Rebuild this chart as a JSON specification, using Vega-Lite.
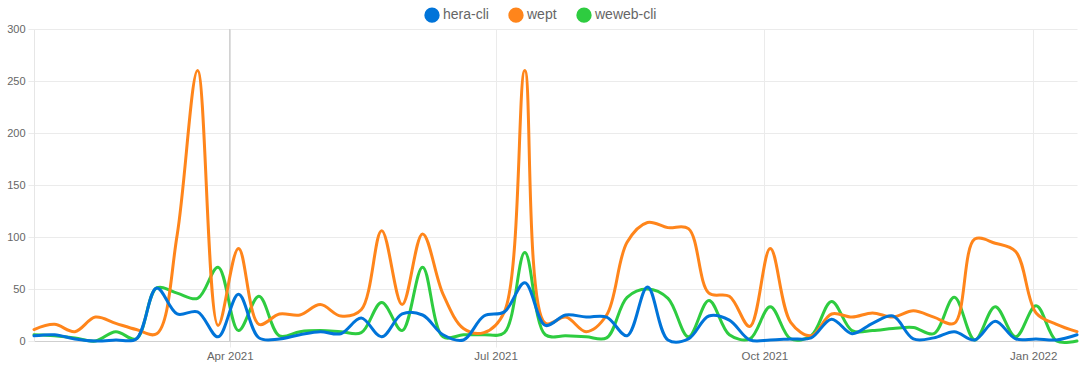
{
  "$schema": "https://vega.github.io/schema/vega-lite/v6.json",
  "autosize": "none",
  "width": 1043,
  "height": 312,
  "padding": {"left": 34, "top": 29, "right": 3, "bottom": 30},
  "background": "white",
  "config": {
    "view": {"stroke": null},
    "font": "Liberation Sans"
  },
  "layer": [
    {
      "data": {"values": [{"date": "2021-04-01"}]},
      "mark": {"type": "rule", "color": "#d2d2d2", "strokeWidth": 1.5},
      "encoding": {
        "x": {"field": "date", "type": "temporal", "scale": {"type": "utc"}}
      }
    },
    {
      "data": {"values": [
        {"date": "2021-01-24", "hera-cli": 5, "wept": 11, "weweb-cli": 6},
        {"date": "2021-01-31", "hera-cli": 6, "wept": 16, "weweb-cli": 5},
        {"date": "2021-02-07", "hera-cli": 2, "wept": 9, "weweb-cli": 3},
        {"date": "2021-02-14", "hera-cli": 0, "wept": 23, "weweb-cli": 0},
        {"date": "2021-02-21", "hera-cli": 1, "wept": 17, "weweb-cli": 9},
        {"date": "2021-02-28", "hera-cli": 2, "wept": 11, "weweb-cli": 2},
        {"date": "2021-03-07", "hera-cli": 51, "wept": 7, "weweb-cli": 51},
        {"date": "2021-03-14", "hera-cli": 26, "wept": 102, "weweb-cli": 46},
        {"date": "2021-03-21", "hera-cli": 28, "wept": 260, "weweb-cli": 41},
        {"date": "2021-03-28", "hera-cli": 4, "wept": 15, "weweb-cli": 71},
        {"date": "2021-04-04", "hera-cli": 45, "wept": 89, "weweb-cli": 10},
        {"date": "2021-04-11", "hera-cli": 3, "wept": 16, "weweb-cli": 43},
        {"date": "2021-04-18", "hera-cli": 2, "wept": 26, "weweb-cli": 5},
        {"date": "2021-04-25", "hera-cli": 6, "wept": 25, "weweb-cli": 9},
        {"date": "2021-05-02", "hera-cli": 9, "wept": 35, "weweb-cli": 10},
        {"date": "2021-05-09", "hera-cli": 7, "wept": 24, "weweb-cli": 9},
        {"date": "2021-05-16", "hera-cli": 22, "wept": 30, "weweb-cli": 8},
        {"date": "2021-05-23", "hera-cli": 4, "wept": 106, "weweb-cli": 37},
        {"date": "2021-05-30", "hera-cli": 26, "wept": 35, "weweb-cli": 10},
        {"date": "2021-06-06", "hera-cli": 25, "wept": 103, "weweb-cli": 71},
        {"date": "2021-06-13", "hera-cli": 6, "wept": 45, "weweb-cli": 4},
        {"date": "2021-06-20", "hera-cli": 1, "wept": 12, "weweb-cli": 6},
        {"date": "2021-06-27", "hera-cli": 24, "wept": 8, "weweb-cli": 6},
        {"date": "2021-07-04", "hera-cli": 28, "wept": 28, "weweb-cli": 8},
        {"date": "2021-07-11", "hera-cli": 56, "wept": 260, "weweb-cli": 85},
        {"date": "2021-07-18", "hera-cli": 15, "wept": 17, "weweb-cli": 6},
        {"date": "2021-07-25", "hera-cli": 25, "wept": 23, "weweb-cli": 5},
        {"date": "2021-08-01", "hera-cli": 23, "wept": 9, "weweb-cli": 4},
        {"date": "2021-08-08", "hera-cli": 23, "wept": 25, "weweb-cli": 3},
        {"date": "2021-08-15", "hera-cli": 5, "wept": 95, "weweb-cli": 42},
        {"date": "2021-08-22", "hera-cli": 52, "wept": 114, "weweb-cli": 50},
        {"date": "2021-08-29", "hera-cli": 1, "wept": 109, "weweb-cli": 41},
        {"date": "2021-09-05", "hera-cli": 2, "wept": 108, "weweb-cli": 4},
        {"date": "2021-09-12", "hera-cli": 24, "wept": 46, "weweb-cli": 39},
        {"date": "2021-09-19", "hera-cli": 20, "wept": 43, "weweb-cli": 6},
        {"date": "2021-09-26", "hera-cli": 1, "wept": 14, "weweb-cli": 2},
        {"date": "2021-10-03", "hera-cli": 1, "wept": 89, "weweb-cli": 33},
        {"date": "2021-10-10", "hera-cli": 2, "wept": 18, "weweb-cli": 2},
        {"date": "2021-10-17", "hera-cli": 3, "wept": 5, "weweb-cli": 5},
        {"date": "2021-10-24", "hera-cli": 21, "wept": 26, "weweb-cli": 38},
        {"date": "2021-10-31", "hera-cli": 7, "wept": 23, "weweb-cli": 10},
        {"date": "2021-11-07", "hera-cli": 17, "wept": 27, "weweb-cli": 10},
        {"date": "2021-11-14", "hera-cli": 24, "wept": 23, "weweb-cli": 12},
        {"date": "2021-11-21", "hera-cli": 2, "wept": 29, "weweb-cli": 13},
        {"date": "2021-11-28", "hera-cli": 3, "wept": 23, "weweb-cli": 7},
        {"date": "2021-12-05", "hera-cli": 9, "wept": 17, "weweb-cli": 42},
        {"date": "2021-12-12", "hera-cli": 1, "wept": 98, "weweb-cli": 1},
        {"date": "2021-12-19", "hera-cli": 19, "wept": 94, "weweb-cli": 33},
        {"date": "2021-12-26", "hera-cli": 2, "wept": 86, "weweb-cli": 4},
        {"date": "2022-01-02", "hera-cli": 2, "wept": 27, "weweb-cli": 34},
        {"date": "2022-01-09", "hera-cli": 1, "wept": 16, "weweb-cli": 0},
        {"date": "2022-01-16", "hera-cli": 6, "wept": 9, "weweb-cli": 0}
      ]},
      "transform": [
        {"fold": ["weweb-cli", "wept", "hera-cli"], "as": ["package", "downloads"]}
      ],
      "mark": {"type": "line", "interpolate": "catmull-rom", "strokeWidth": 3, "strokeCap": "round", "strokeJoin": "round"},
      "encoding": {
        "x": {
          "field": "date", "type": "temporal",
          "scale": {"type": "utc", "domain": [{"year": 2021, "month": 1, "date": 24, "utc": true}, {"year": 2022, "month": 1, "date": 16, "utc": true}]},
          "axis": {
            "title": null,
            "values": [
              {"year": 2021, "month": 4, "date": 1, "utc": true},
              {"year": 2021, "month": 7, "date": 1, "utc": true},
              {"year": 2021, "month": 10, "date": 1, "utc": true},
              {"year": 2022, "month": 1, "date": 1, "utc": true}
            ],
            "format": "%b %Y",
            "labelFont": "Liberation Sans",
            "labelFontSize": 11.5,
            "labelColor": "#666666",
            "labelPadding": 3,
            "tickSize": 6,
            "tickColor": "#ebebeb",
            "gridColor": "#ebebeb",
            "domainColor": "#cfcfcf",
            "domainWidth": 1.2
          }
        },
        "y": {
          "field": "downloads", "type": "quantitative",
          "scale": {"domain": [0, 300], "nice": false},
          "axis": {
            "title": null,
            "values": [0, 50, 100, 150, 200, 250, 300],
            "labelFont": "Liberation Sans",
            "labelFontSize": 11,
            "labelColor": "#666666",
            "labelPadding": 3,
            "tickSize": 6,
            "tickColor": "#ebebeb",
            "gridColor": "#ebebeb",
            "domainColor": "#e6e6e6"
          }
        },
        "color": {
          "field": "package", "type": "nominal",
          "scale": {"domain": ["hera-cli", "wept", "weweb-cli"], "range": ["#0074D9", "#FF851B", "#2ECC40"]},
          "legend": {
            "title": null,
            "orient": "none",
            "direction": "horizontal",
            "legendX": 390,
            "legendY": -22,
            "padding": 0,
            "symbolType": "circle",
            "symbolSize": 235,
            "symbolStrokeWidth": 0,
            "symbolOpacity": 1,
            "labelFont": "Liberation Sans",
            "labelFontSize": 14,
            "labelColor": "#666666",
            "labelOffset": 3,
            "columnPadding": 19,
            "encode": {
              "symbols": {"update": {"fill": {"scale": "color", "field": "value"}, "strokeWidth": {"value": 0}, "opacity": {"value": 1}}}
            }
          }
        }
      }
    }
  ]
}
